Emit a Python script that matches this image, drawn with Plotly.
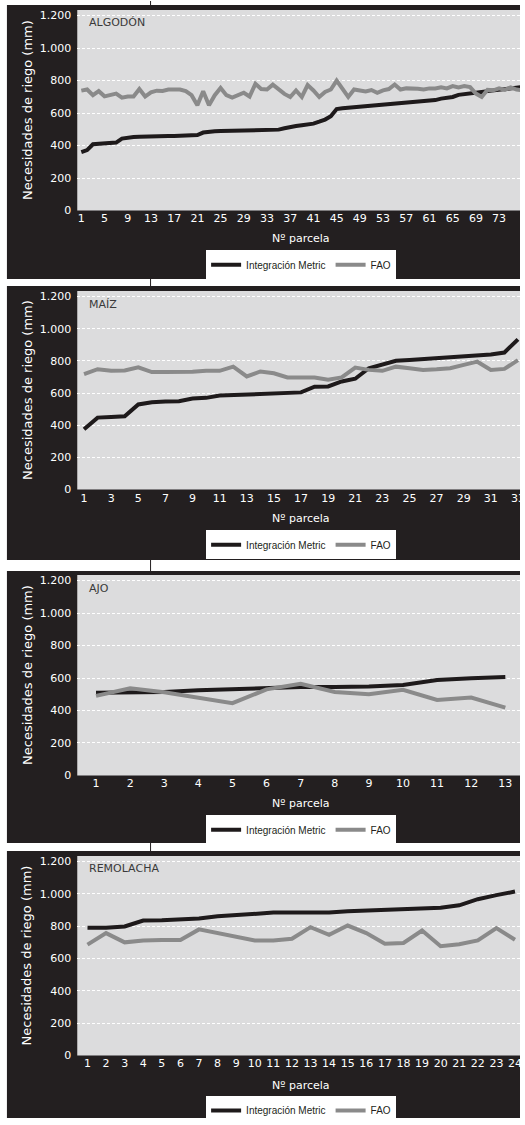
import plotly.graph_objects as go

W, H = 525, 1125

# ---------------- data ----------------
crops = ["ALGODÓN", "MAÍZ", "AJO", "REMOLACHA"]
series_names = ["Integración Metric", "FAO"]

algodon_metric = [360, 372, 408, 410, 412, 414, 418, 443, 450, 452, 454, 456, 457, 458, 458, 459,
                  459, 459, 460, 461, 465, 480, 486, 488, 490, 491, 492, 494, 495, 496, 498, 498,
                  498, 498, 498, 506, 516, 520, 525, 528, 535, 547, 560, 580, 625, 630, 633, 636,
                  641, 644, 646, 649, 652, 655, 658, 660, 662, 664, 667, 670, 673, 680, 689, 693,
                  699, 712, 715, 718, 722, 730, 735, 739, 743, 747, 751, 756, 760]
algodon_fao = [738, 745, 710, 735, 703, 713, 720, 695, 702, 702, 748, 702, 728, 738, 736, 745,
               745, 745, 735, 710, 648, 735, 648, 710, 755, 710, 695, 708, 725, 702, 780, 748,
               745, 775, 745, 718, 699, 739, 699, 772, 739, 699, 730, 745, 800, 745, 699, 745,
               738, 733, 742, 725, 740, 748, 776, 745, 752, 752, 750, 745, 752, 752, 758, 752,
               766, 758, 766, 760, 720, 699, 743, 740, 752, 743, 758, 745, 740]

maiz_metric = [375, 447, 451, 455, 529, 543, 547, 549, 566, 570, 584, 588, 592, 596, 598, 600,
               604, 639, 641, 672, 689, 754, 779, 801, 805, 811, 820, 824, 826, 834, 840, 852, 934]
maiz_fao = [717, 748, 738, 740, 760, 730, 730, 730, 732, 738, 738, 764, 703, 734, 723, 697,
            697, 697, 682, 697, 758, 744, 738, 764, 754, 744, 748, 754, 775, 795, 744, 750, 805]

ajo_metric = [510, 510, 514, 524, 532, 537, 545, 545, 547, 557, 588, 598, 606]
ajo_fao = [490, 537, 512, 480, 445, 530, 565, 514, 500, 528, 465, 480, 418]

remolacha_metric = [790, 790, 798, 835, 837, 839, 847, 861, 869, 871, 884, 884, 884, 884, 892,
                    896, 898, 900, 906, 914, 929, 967, 992, 1014]
remolacha_fao = [686, 757, 700, 712, 714, 714, 780, 757, 733, 712, 712, 722, 794, 747, 804, 757,
                 692, 696, 773, 676, 688, 712, 788, 716]

xticks_algodon = [1, 5, 9, 13, 17, 21, 25, 29, 33, 37, 41, 45, 49, 53, 57, 61, 65, 69, 73]
xticks_maiz = [1, 3, 5, 7, 9, 11, 13, 15, 17, 19, 21, 23, 25, 27, 29, 31, 33]
xticks_ajo = [1, 2, 3, 4, 5, 6, 7, 8, 9, 10, 11, 12, 13]
xticks_remolacha = [1, 2, 3, 4, 5, 6, 7, 8, 9, 10, 11, 12, 13, 14, 15, 16, 17, 18, 19, 20, 21,
                    22, 23, 24]

yticks = [0, 200, 400, 600, 800, 1000, 1200]
ytick_labels = ["0", "200", "400", "600", "800", "1.000", "1.200"]

y_title = "Necesidades de riego (mm)"
x_title = "Nº parcela"

# ---------------- layout geometry (pixels) ----------------
metric_vals = [algodon_metric, maiz_metric, ajo_metric, remolacha_metric]
fao_vals = [algodon_fao, maiz_fao, ajo_fao, remolacha_fao]
xtick_sets = [xticks_algodon, xticks_maiz, xticks_ajo, xticks_remolacha]

black_boxes = [(4, 280), (287, 563), (574, 848), (856, 1125)]
plot_boxes = [(9, 211), (292, 492), (578, 780), (861, 1062)]
x_ranges = [[0.3, 76.6], [0.5, 33.15], [0.45, 13.43], [0.45, 24.27]]
legend_tops = [251, 533, 820, 1103]
xtitle_y = [239, 521, 808, 1092]
title_y = [22, 306, 592, 874]
PX_L, PX_R = 78, 525
BLACK_L = 7

BLACK = "#231f20"
LINE_BLACK = "#1e1a1b"
LINE_GRAY = "#8a8a8a"
PLOT_BG = "#dcdcdd"


def px(x):
    return x / W


def py(y):
    return 1 - y / H


fig = go.Figure()
shapes = []
annotations = []

# vertical connector line behind panels
shapes.append(dict(type="line", xref="paper", yref="paper", x0=px(152), x1=px(152), y0=0, y1=1,
                   line=dict(color=BLACK, width=1), layer="below"))

for k in range(4):
    n = len(metric_vals[k])
    parcels = list(range(1, n + 1))
    ax = "" if k == 0 else str(k + 1)
    leg = "legend" if k == 0 else "legend" + str(k + 1)
    fig.add_trace(go.Scatter(x=parcels, y=metric_vals[k], mode="lines", name=series_names[0],
                             line=dict(color=LINE_BLACK, width=4), xaxis="x" + ax, yaxis="y" + ax,
                             legend=leg))
    fig.add_trace(go.Scatter(x=parcels, y=fao_vals[k], mode="lines", name=series_names[1],
                             line=dict(color=LINE_GRAY, width=4), xaxis="x" + ax, yaxis="y" + ax,
                             legend=leg))

    b0, b1 = black_boxes[k]
    t0, t1 = plot_boxes[k]
    shapes.append(dict(type="rect", xref="paper", yref="paper", x0=px(BLACK_L), x1=1.0,
                       y0=py(b1), y1=py(b0), fillcolor=BLACK, line=dict(width=0), layer="below"))
    shapes.append(dict(type="rect", xref="paper", yref="paper", x0=px(PX_L), x1=1.0,
                       y0=py(t1), y1=py(t0), fillcolor=PLOT_BG, line=dict(width=0), layer="below"))

    xa = dict(domain=[px(PX_L), 1.0], range=x_ranges[k], tickmode="array", tickvals=xtick_sets[k],
              ticktext=[str(v) for v in xtick_sets[k]], showgrid=False, zeroline=False,
              showline=False, ticks="", ticklabeloverflow="allow",
              tickfont=dict(family="DejaVu Sans", size=11, color="white"),
              anchor="y" + ax, fixedrange=True)
    ya = dict(domain=[py(t1), py(t0)], range=[0, 1235], tickmode="array", tickvals=yticks,
              ticktext=ytick_labels, showgrid=True, gridcolor="white", gridwidth=1,
              griddash="3px,2px", zeroline=False, showline=False, ticks="",
              ticklabelstandoff=5,
              tickfont=dict(family="DejaVu Sans", size=11, color="white"),
              anchor="x" + ax, fixedrange=True)
    fig.update_layout(**{"xaxis" + ax: xa, "yaxis" + ax: ya})

    fig.update_layout(**{leg: dict(orientation="h", x=px(304), xanchor="center",
                                   y=py(legend_tops[k]), yanchor="top", bgcolor="white",
                                   borderwidth=0, tracegroupgap=0,
                                   font=dict(family="Liberation Sans", size=10, color=BLACK))})

    annotations.append(dict(text=y_title, xref="paper", yref="paper", x=px(27),
                            y=py((t0 + t1) / 2), textangle=-90, showarrow=False,
                            xanchor="center", yanchor="middle",
                            font=dict(family="DejaVu Sans", size=13, color="white")))
    annotations.append(dict(text=x_title, xref="paper", yref="paper", x=px(304), y=py(xtitle_y[k]),
                            showarrow=False, xanchor="center", yanchor="middle",
                            font=dict(family="DejaVu Sans", size=11, color="white")))
    annotations.append(dict(text=crops[k], xref="paper", yref="paper", x=px(88), y=py(title_y[k]),
                            showarrow=False, xanchor="left", yanchor="middle",
                            font=dict(family="DejaVu Sans", size=11, color="#3a3a3a")))

fig.update_layout(width=W, height=H, margin=dict(l=0, r=0, t=0, b=0), paper_bgcolor="white",
                  plot_bgcolor="rgba(0,0,0,0)", shapes=shapes, annotations=annotations,
                  showlegend=True, hovermode=False)

fig.write_html("out.html", config={"displayModeBar": False},
               post_script="document.body.style.margin='0';document.body.style.overflow='hidden';")
